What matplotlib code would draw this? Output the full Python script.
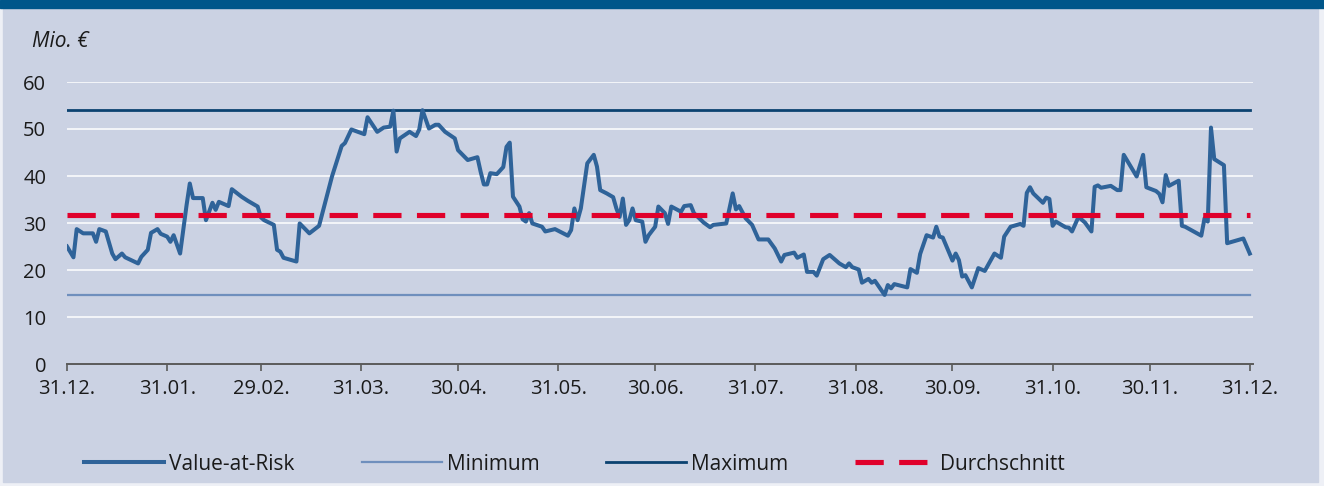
import matplotlib
matplotlib.use("Agg")
import matplotlib.pyplot as plt
import matplotlib.patches as mpatches
from matplotlib.lines import Line2D
import numpy as np
import pandas as pd

plt.rcParams['font.family'] = ['Open Sans', 'DejaVu Sans']

# days after 31.12.2011 and daily Value-at-Risk (Mio. EUR)
days = [0, 2, 3, 5, 8, 9, 10, 12, 14, 15, 17, 18, 22, 23, 25, 26, 28, 29, 31, 32,
        33, 35, 37, 38, 39, 42, 43, 45, 46, 47, 50, 51, 54, 56, 59, 60, 61, 64, 65, 66,
        67, 71, 72, 75, 78, 82, 85, 86, 88, 92, 93, 96, 98, 100, 101, 102, 103, 106, 108, 109,
        110, 112, 114, 115, 117, 120, 121, 124, 127, 128, 129, 130, 131, 133, 135, 136, 137, 138, 140, 141,
        142, 143, 144, 147, 148, 151, 155, 156, 157, 158, 159, 161, 163, 164, 165, 167, 169, 170, 171, 172,
        173, 174, 175, 176, 178, 179, 180, 182, 183, 185, 186, 187, 190, 191, 193, 194, 197, 199, 200, 204,
        205, 206, 207, 208, 210, 212, 214, 217, 219, 221, 222, 225, 226, 228, 229, 231, 232, 234, 236, 239,
        241, 242, 243, 245, 246, 248, 249, 250, 253, 254, 255, 256, 260, 261, 263, 264, 266, 268, 269, 270,
        271, 274, 275, 276, 277, 278, 280, 282, 284, 287, 289, 290, 292, 295, 296, 297, 298, 299, 302, 303,
        304, 305, 306, 309, 310, 311, 313, 315, 317, 318, 319, 320, 323, 325, 326, 327, 331, 333, 334, 337,
        338, 339, 340, 341, 344, 345, 346, 351, 352, 353, 354, 355, 358, 359, 364, 366]
var = [25.0, 22.7, 28.7, 27.8, 27.8, 26.0, 28.7, 28.2, 23.5, 22.3, 23.5, 22.7, 21.4, 22.8, 24.3, 27.9, 28.7, 27.7, 27.1, 26.0,
       27.4, 23.5, 33.8, 38.4, 35.3, 35.3, 30.6, 34.3, 32.8, 34.5, 33.6, 37.2, 35.6, 34.7, 33.5, 31.2, 30.6, 29.6, 24.3, 23.9,
       22.6, 21.8, 29.9, 27.8, 29.4, 39.9, 46.4, 47.0, 49.9, 48.9, 52.5, 49.4, 50.3, 50.5, 53.9, 45.2, 48.0, 49.4, 48.5, 49.9,
       54.0, 50.1, 50.9, 50.9, 49.4, 48.0, 45.5, 43.4, 44.0, 40.9, 38.2, 38.2, 40.6, 40.4, 41.9, 46.2, 47.1, 35.6, 33.5, 30.8,
       30.3, 32.1, 29.9, 29.2, 28.2, 28.7, 27.3, 28.5, 33.1, 30.6, 33.1, 42.7, 44.5, 42.0, 37.0, 36.3, 35.5, 33.1, 31.3, 35.2,
       29.6, 30.6, 33.1, 30.6, 30.3, 26.0, 27.4, 29.2, 33.5, 32.1, 29.8, 33.5, 32.4, 33.6, 33.8, 32.1, 30.1, 29.1, 29.6, 29.9,
       33.1, 36.3, 32.9, 33.6, 31.0, 29.6, 26.5, 26.5, 24.6, 21.8, 23.2, 23.7, 22.6, 23.3, 19.6, 19.6, 18.8, 22.3, 23.2, 21.4,
       20.6, 21.4, 20.6, 20.1, 17.3, 18.1, 17.3, 17.7, 14.7, 16.8, 16.1, 17.0, 16.3, 20.2, 19.4, 23.4, 27.4, 26.9, 29.2, 27.1,
       26.9, 22.0, 23.5, 22.1, 18.6, 18.9, 16.3, 20.4, 19.8, 23.5, 22.6, 27.1, 29.2, 29.8, 29.4, 36.4, 37.6, 36.3, 34.3, 35.4,
       35.1, 29.4, 30.3, 29.1, 29.0, 28.2, 31.3, 30.1, 28.2, 37.7, 38.0, 37.5, 37.9, 37.0, 37.0, 44.5, 39.9, 44.5, 37.6, 36.8,
       36.2, 34.4, 40.2, 37.9, 39.0, 29.4, 29.2, 27.3, 31.0, 30.3, 50.3, 43.6, 42.3, 25.7, 26.7, 23.5]

var_min = 14.7
var_max = 54.0
var_avg = 31.6

tick_days = [0, 31, 60, 91, 121, 152, 182, 213, 244, 274, 305, 335, 366]
tick_labels = ["31.12.", "31.01.", "29.02.", "31.03.", "30.04.", "31.05.", "30.06.",
               "31.07.", "31.08.", "30.09.", "31.10.", "30.11.", "31.12."]

start = pd.Timestamp("2011-12-31")
dates = start + pd.to_timedelta(days, unit="D")
tick_dates = start + pd.to_timedelta(tick_days, unit="D")
span = [dates[0], dates[-1]]

c_var = "#2f6399"
c_min = "#6f8fbd"
c_max = "#0b4270"
c_avg = "#e0002b"
dash = (5.5, 3.0)

bg = "#cbd2e3"
fig = plt.figure(figsize=(13.24, 4.86), dpi=100, facecolor="#eef0f6")
fig.patches.append(mpatches.Rectangle((3/1324, 4/486), 1315/1324, 474/486,
                                      transform=fig.transFigure, color=bg, zorder=0))
fig.patches.append(mpatches.Rectangle((0, 478/486), 1, 8/486,
                                      transform=fig.transFigure, color="#00568a", zorder=1))

ax = fig.add_axes([67/1324, 1-364/486, 1186/1324, 282/486])
ax.set_zorder(3)
ax.set_facecolor("none")

ax.plot(span, [var_min, var_min], color=c_min, lw=1.6, zorder=3)
ax.plot(span, [var_max, var_max], color=c_max, lw=2.0, zorder=3)
ax.plot(dates, var, color=c_var, lw=2.9, zorder=4, solid_joinstyle="round")
ax.plot(span, [var_avg, var_avg], color=c_avg, lw=3.7, dashes=dash, zorder=5)

ax.set_ylim(0, 60)
ax.set_xlim(start, start + pd.Timedelta(days=367))
ax.set_yticks(range(0, 61, 10))
ax.yaxis.grid(True, color="white", lw=1.1)
ax.set_axisbelow(True)
ax.set_xticks(tick_dates)
ax.set_xticklabels(tick_labels)
for s in ["top", "right", "left"]:
    ax.spines[s].set_visible(False)
ax.spines["bottom"].set_color("#5a5a5a")
ax.spines["bottom"].set_linewidth(1.4)
ax.spines["bottom"].set_zorder(6)
ax.tick_params(axis="y", length=0, pad=15, labelsize=14.5, labelcolor="#1a1a1a")
ax.tick_params(axis="x", length=5, width=1.2, color="#5a5a5a", pad=6, labelsize=14.5, labelcolor="#1a1a1a")

fig.text(32/1324, 1-47/486, "Mio. €", fontsize=15, style="italic", color="#1a1a1a")

handles = [Line2D([], [], color=c_var, lw=2.9),
           Line2D([], [], color=c_min, lw=1.6),
           Line2D([], [], color=c_max, lw=2.0),
           Line2D([], [], color=c_avg, lw=3.7, dashes=dash)]
fig.legend(handles, ["Value-at-Risk", "Minimum", "Maximum", "Durchschnitt"],
           loc="center", bbox_to_anchor=(0.434, 1-464/486), ncol=4, frameon=False,
           fontsize=15, handlelength=3.84, handletextpad=0.25, columnspacing=3.2,
           labelcolor="#1a1a1a")

fig.savefig("out.png", dpi=100, facecolor=fig.get_facecolor())
